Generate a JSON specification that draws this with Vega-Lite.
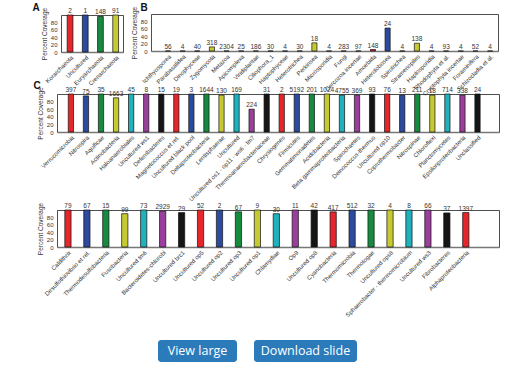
{
  "$schema": "https://vega.github.io/schema/vega-lite/v6.json",
  "autosize": "none",
  "padding": 0,
  "width": 532,
  "height": 366,
  "background": "white",
  "config": {
    "font": "Liberation Sans",
    "view": {"stroke": null},
    "axis": {"grid": false, "ticks": false, "labelFont": "Liberation Sans", "labelFontSize": 6, "labelColor": "#333", "titleFont": "Liberation Sans", "titleFontSize": 6.5, "titleFontWeight": "normal", "titleColor": "#333", "domainColor": "#222", "domainWidth": 0.8}
  },
  "datasets": {
    "A": [
      {"name": "Korarchaeota", "count": 2, "pct": 100},
      {"name": "Uncultured", "count": 1, "pct": 100},
      {"name": "Euryarchaeota", "count": 148, "pct": 96},
      {"name": "Crenarchaeota", "count": 91, "pct": 100}
    ],
    "B": [
      {"name": "Ichthyosporea", "count": 56, "pct": 0},
      {"name": "Parabasalidea", "count": 4, "pct": 0},
      {"name": "Dinophyceae", "count": 40, "pct": 0},
      {"name": "Zygomycota", "count": 318, "pct": 11},
      {"name": "Metazoa", "count": 2304, "pct": 0},
      {"name": "Apicomplexa", "count": 25, "pct": 0},
      {"name": "Viridiplantae", "count": 186, "pct": 0},
      {"name": "Ciliophora_1", "count": 30, "pct": 0},
      {"name": "Haptophyceae", "count": 4, "pct": 0},
      {"name": "Heterotrichea", "count": 30, "pct": 0},
      {"name": "Perkinsea", "count": 18, "pct": 22},
      {"name": "Microsporidia", "count": 4, "pct": 0},
      {"name": "Fungi", "count": 283, "pct": 0},
      {"name": "Cercozoa incertae", "count": 97, "pct": 0},
      {"name": "Amoebida", "count": 148, "pct": 4},
      {"name": "Heterolobosea", "count": 24, "pct": 62},
      {"name": "Spirotrichea", "count": 4, "pct": 0},
      {"name": "Stramenopiles", "count": 138, "pct": 21},
      {"name": "Haplosporidia", "count": 4, "pct": 0},
      {"name": "Rhodophyta et al.", "count": 93, "pct": 0},
      {"name": "Cryptophyta incertae", "count": 4, "pct": 0},
      {"name": "Foraminifera", "count": 52, "pct": 0},
      {"name": "Schizocladia et al.", "count": 4, "pct": 0}
    ],
    "C1": [
      {"name": "Verrucomicrobia", "count": 397, "pct": 100},
      {"name": "Nitrospira", "count": 75, "pct": 95},
      {"name": "Aquificae", "count": 35, "pct": 100},
      {"name": "Actinobacteria", "count": 1663, "pct": 90},
      {"name": "Haloanaerobiales", "count": 45, "pct": 100},
      {"name": "Uncultured ws1", "count": 8, "pct": 100},
      {"name": "Deferribacteres", "count": 15, "pct": 100},
      {"name": "Magnetococcus et rel.", "count": 19, "pct": 100},
      {"name": "Uncultured black pool", "count": 3, "pct": 100},
      {"name": "Deltaproteobacteria", "count": 1644, "pct": 100},
      {"name": "Lentisphaerae", "count": 130, "pct": 97},
      {"name": "Uncultured", "count": 169, "pct": 100},
      {"name": "Uncultured os1 - op11 - ws6 - tm7", "count": 224, "pct": 60},
      {"name": "Thermoanaerobacteriaceae", "count": 31, "pct": 100},
      {"name": "Chrysiogenes", "count": 2, "pct": 100},
      {"name": "Firmicutes", "count": 5192, "pct": 100},
      {"name": "Gemmatimonadetes", "count": 201, "pct": 100},
      {"name": "Acidobacteria", "count": 1024, "pct": 100},
      {"name": "Beta gammaproteobacteria", "count": 4755, "pct": 97},
      {"name": "Spirochaetes", "count": 369, "pct": 97},
      {"name": "Deinococcus-thermus", "count": 93, "pct": 100},
      {"name": "Uncultured op10", "count": 76, "pct": 100},
      {"name": "Coprothermobacter", "count": 13, "pct": 97},
      {"name": "Nitrospinae", "count": 211, "pct": 100},
      {"name": "Chloroflexi", "count": 18, "pct": 97},
      {"name": "Planctomycetes", "count": 714, "pct": 100},
      {"name": "Epsilonproteobacteria", "count": 338, "pct": 97},
      {"name": "Unclassified", "count": 24, "pct": 100}
    ],
    "C2": [
      {"name": "Caldithrix", "count": 79, "pct": 100},
      {"name": "Desulfothiovibrio et rel.", "count": 67, "pct": 100},
      {"name": "Thermodesulfobacteria", "count": 15, "pct": 100},
      {"name": "Fusobacteria", "count": 99, "pct": 90},
      {"name": "Uncultured tm6", "count": 73, "pct": 100},
      {"name": "Bacteroidetes-chlorobi", "count": 2929, "pct": 97},
      {"name": "Uncultured brc1", "count": 29, "pct": 93},
      {"name": "Uncultured op5", "count": 52, "pct": 100},
      {"name": "Uncultured op2", "count": 2, "pct": 100},
      {"name": "Uncultured op3", "count": 67, "pct": 95},
      {"name": "Uncultured op1", "count": 9, "pct": 100},
      {"name": "Chlamydiae", "count": 30, "pct": 90},
      {"name": "Op9", "count": 11, "pct": 100},
      {"name": "Uncultured op8", "count": 42, "pct": 100},
      {"name": "Cyanobacteria", "count": 417, "pct": 95},
      {"name": "Thermomicrobia", "count": 512, "pct": 100},
      {"name": "Thermotogae", "count": 32, "pct": 100},
      {"name": "Uncultured ops8", "count": 4, "pct": 100},
      {"name": "Sphaerobacter - thermomicrobium", "count": 8, "pct": 100},
      {"name": "Uncultured ws3", "count": 66, "pct": 100},
      {"name": "Fibrobacteres", "count": 37, "pct": 92},
      {"name": "Alphaproteobacteria", "count": 1397, "pct": 93}
    ],
    "btn": [
      {"label": "View large"},
      {"label": "Download slide"}
    ]
  },
  "layer": [
    {
      "data": {"name": "A"},
      "layer": [
        {
          "mark": {"type": "bar", "stroke": "#111", "strokeWidth": 0.7},
          "encoding": {
            "x": {"field": "name", "type": "nominal", "sort": null, "scale": {"range": [61, 123], "paddingInner": 0.62, "paddingOuter": 0.35, "align": 0.58}, "axis": {"orient": "bottom", "offset": -314, "title": null, "labelAngle": -45, "labelPadding": 2, "domainColor": "#777", "domainWidth": 1.5}},
            "y": {"field": "pct", "type": "quantitative", "scale": {"domain": [0, 100], "range": [52, 15]}, "axis": {"orient": "left", "offset": -61, "title": "Percent Coverage", "values": [0, 20, 40, 60, 80], "labelPadding": 4, "titlePadding": 3}},
            "color": {"field": "name", "type": "nominal", "sort": null, "scale": {"range": ["#e5262b", "#2c4b9e", "#178a40", "#c6ca32", "#1fb1bc", "#9a3f9b", "#151515"]}, "legend": null}
          }
        },
        {
          "mark": {"type": "text", "baseline": "bottom", "dy": -1, "fontSize": 6.5, "color": "#333"},
          "encoding": {
            "x": {"field": "name", "type": "nominal", "sort": null, "scale": {"range": [61, 123], "paddingInner": 0.62, "paddingOuter": 0.35, "align": 0.58}, "axis": {"orient": "top", "offset": -15, "labels": false, "title": "A", "titleX": 32, "titleY": -5, "titleAlign": "left", "titleBaseline": "alphabetic", "titleFontSize": 10, "titleFontWeight": "bold", "titleColor": "#111"}},
            "y": {"field": "pct", "type": "quantitative", "scale": {"domain": [0, 100], "range": [52, 15]}, "axis": {"orient": "right", "offset": -409, "labels": false, "title": null}},
            "text": {"field": "count", "type": "quantitative", "format": "d"}
          }
        }
      ],
      "resolve": {"axis": {"x": "independent", "y": "independent"}}
    },
    {
      "data": {"name": "B"},
      "layer": [
        {
          "mark": {"type": "bar", "stroke": "#111", "strokeWidth": 0.7},
          "encoding": {
            "x": {"field": "name", "type": "nominal", "sort": null, "scale": {"range": [151, 498], "paddingInner": 0.65, "paddingOuter": 0.675, "align": 0.73}, "axis": {"orient": "bottom", "offset": -315, "title": null, "labelAngle": -45, "labelPadding": 2, "domainColor": "#777", "domainWidth": 1.5}},
            "y": {"field": "pct", "type": "quantitative", "scale": {"domain": [0, 100], "range": [51, 14]}, "axis": {"orient": "left", "offset": -151, "title": "Percent Coverage", "values": [0, 20, 40, 60, 80], "labelPadding": 4, "titlePadding": 3}},
            "color": {"field": "name", "type": "nominal", "sort": null, "scale": {"range": ["#e5262b", "#2c4b9e", "#178a40", "#c6ca32", "#1fb1bc", "#9a3f9b", "#151515"]}, "legend": null}
          }
        },
        {
          "mark": {"type": "text", "baseline": "bottom", "dy": -1, "fontSize": 6.5, "color": "#333"},
          "encoding": {
            "x": {"field": "name", "type": "nominal", "sort": null, "scale": {"range": [151, 498], "paddingInner": 0.65, "paddingOuter": 0.675, "align": 0.73}, "axis": {"orient": "top", "offset": -14, "labels": false, "title": "B", "titleX": 140, "titleY": -4, "titleAlign": "left", "titleBaseline": "alphabetic", "titleFontSize": 10, "titleFontWeight": "bold", "titleColor": "#111"}},
            "y": {"field": "pct", "type": "quantitative", "scale": {"domain": [0, 100], "range": [51, 14]}, "axis": {"orient": "right", "offset": -34, "labels": false, "title": null}},
            "text": {"field": "count", "type": "quantitative", "format": "d"}
          }
        }
      ],
      "resolve": {"axis": {"x": "independent", "y": "independent"}}
    },
    {
      "data": {"name": "C1"},
      "layer": [
        {
          "mark": {"type": "bar", "stroke": "#111", "strokeWidth": 0.7},
          "encoding": {
            "x": {"field": "name", "type": "nominal", "sort": null, "scale": {"range": [57, 499], "paddingInner": 0.65, "paddingOuter": 1.31, "align": 0.374}, "axis": {"orient": "bottom", "offset": -234, "title": null, "labelAngle": -45, "labelPadding": 2, "domainColor": "#777", "domainWidth": 1.5}},
            "y": {"field": "pct", "type": "quantitative", "scale": {"domain": [0, 100], "range": [132, 94]}, "axis": {"orient": "left", "offset": -57, "title": "Percent Coverage", "values": [0, 20, 40, 60, 80], "labelPadding": 4, "titlePadding": 3}},
            "color": {"field": "name", "type": "nominal", "sort": null, "scale": {"range": ["#e5262b", "#2c4b9e", "#178a40", "#c6ca32", "#1fb1bc", "#9a3f9b", "#151515"]}, "legend": null}
          }
        },
        {
          "mark": {"type": "text", "baseline": "bottom", "dy": -1, "fontSize": 6.5, "color": "#333"},
          "encoding": {
            "x": {"field": "name", "type": "nominal", "sort": null, "scale": {"range": [57, 499], "paddingInner": 0.65, "paddingOuter": 1.31, "align": 0.374}, "axis": {"orient": "top", "offset": -94, "labels": false, "title": "C", "titleX": 33, "titleY": -6, "titleAlign": "left", "titleBaseline": "alphabetic", "titleFontSize": 10, "titleFontWeight": "bold", "titleColor": "#111"}},
            "y": {"field": "pct", "type": "quantitative", "scale": {"domain": [0, 100], "range": [132, 94]}, "axis": {"orient": "right", "offset": -33, "labels": false, "title": null}},
            "text": {"field": "count", "type": "quantitative", "format": "d"}
          }
        }
      ],
      "resolve": {"axis": {"x": "independent", "y": "independent"}}
    },
    {
      "data": {"name": "C2"},
      "layer": [
        {
          "mark": {"type": "bar", "stroke": "#111", "strokeWidth": 0.7},
          "encoding": {
            "x": {"field": "name", "type": "nominal", "sort": null, "scale": {"range": [57, 499], "paddingInner": 0.67, "paddingOuter": 2.49, "align": 0.206}, "axis": {"orient": "bottom", "offset": -119, "title": null, "labelAngle": -45, "labelPadding": 2, "domainColor": "#777", "domainWidth": 1.5}},
            "y": {"field": "pct", "type": "quantitative", "scale": {"domain": [0, 100], "range": [247, 210]}, "axis": {"orient": "left", "offset": -57, "title": "Percent Coverage", "values": [0, 20, 40, 60, 80], "labelPadding": 4, "titlePadding": 3}},
            "color": {"field": "name", "type": "nominal", "sort": null, "scale": {"range": ["#e5262b", "#2c4b9e", "#178a40", "#c6ca32", "#1fb1bc", "#9a3f9b", "#151515"]}, "legend": null}
          }
        },
        {
          "mark": {"type": "text", "baseline": "bottom", "dy": -1, "fontSize": 6.5, "color": "#333"},
          "encoding": {
            "x": {"field": "name", "type": "nominal", "sort": null, "scale": {"range": [57, 499], "paddingInner": 0.67, "paddingOuter": 2.49, "align": 0.206}, "axis": {"orient": "top", "offset": -210, "labels": false, "title": null}},
            "y": {"field": "pct", "type": "quantitative", "scale": {"domain": [0, 100], "range": [247, 210]}, "axis": {"orient": "right", "offset": -33, "labels": false, "title": null}},
            "text": {"field": "count", "type": "quantitative", "format": "d"}
          }
        }
      ],
      "resolve": {"axis": {"x": "independent", "y": "independent"}}
    },
    {
      "data": {"name": "btn"},
      "layer": [
        {
          "transform": [{"filter": "datum.label === 'View large'"}],
          "mark": {"type": "bar", "width": 79, "cornerRadius": 3, "color": "#2b7bba"},
          "encoding": {
            "x": {"field": "label", "type": "nominal", "scale": {"domain": ["View large", "Download slide"], "range": [143.5, 359.5], "paddingInner": 0, "paddingOuter": 0}, "axis": null},
            "y": {"datum": "btn", "type": "nominal", "scale": {"range": [340, 362], "paddingInner": 0, "paddingOuter": 0}, "axis": null}
          }
        },
        {
          "transform": [{"filter": "datum.label === 'Download slide'"}],
          "mark": {"type": "bar", "width": 103, "cornerRadius": 3, "color": "#2b7bba"},
          "encoding": {
            "x": {"field": "label", "type": "nominal", "scale": {"domain": ["View large", "Download slide"], "range": [143.5, 359.5], "paddingInner": 0, "paddingOuter": 0}, "axis": null},
            "y": {"datum": "btn", "type": "nominal", "scale": {"range": [340, 362], "paddingInner": 0, "paddingOuter": 0}, "axis": null}
          }
        },
        {
          "mark": {"type": "text", "color": "white", "font": "Open Sans", "fontSize": 12.5, "baseline": "middle"},
          "encoding": {
            "x": {"field": "label", "type": "nominal", "scale": {"domain": ["View large", "Download slide"], "range": [143.5, 359.5], "paddingInner": 0, "paddingOuter": 0}, "axis": null},
            "y": {"datum": "btn", "type": "nominal", "scale": {"range": [340, 362], "paddingInner": 0, "paddingOuter": 0}, "axis": null},
            "text": {"field": "label", "type": "nominal"}
          }
        }
      ]
    }
  ],
  "resolve": {
    "scale": {"x": "independent", "y": "independent", "color": "independent"},
    "axis": {"x": "independent", "y": "independent"}
  }
}
